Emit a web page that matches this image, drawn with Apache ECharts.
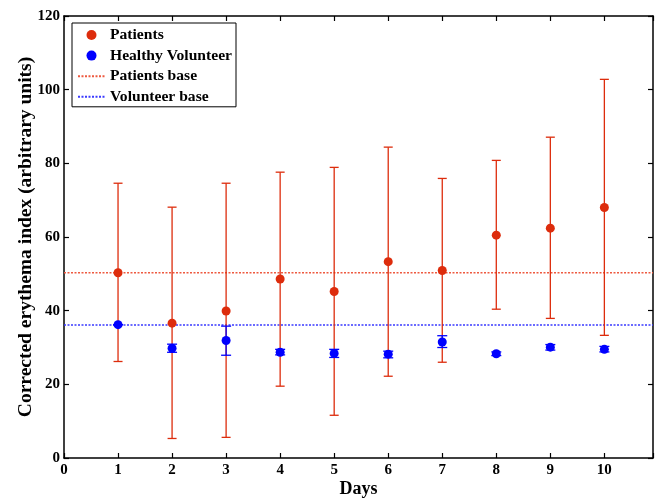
<!DOCTYPE html>
<html>
<head>
<meta charset="utf-8">
<script src="https://cdn.jsdelivr.net/npm/echarts@6/dist/echarts.min.js"></script>
<style>html,body{margin:0;padding:0;background:#fff}#c{width:664px;height:499px}</style>
</head>
<body>
<div id="c"></div>
<script>
var days = [1, 2, 3, 4, 5, 6, 7, 8, 9, 10];
var patientsMean = [50.3, 36.6, 39.9, 48.6, 45.2, 53.3, 50.9, 60.5, 62.4, 68.0];
var patientsUpper = [74.6, 68.1, 74.6, 77.6, 78.9, 84.4, 75.9, 80.8, 87.1, 102.8];
var patientsLower = [26.2, 5.3, 5.6, 19.5, 11.6, 22.2, 26.0, 40.4, 37.9, 33.3];
var volMean = [36.2, 29.8, 31.9, 28.7, 28.4, 28.2, 31.5, 28.3, 30.1, 29.5];
var volUpper = [36.2, 30.9, 35.8, 29.5, 29.5, 29.0, 33.2, 28.8, 30.8, 30.3];
var volLower = [36.2, 28.7, 27.9, 28.0, 27.3, 27.2, 30.0, 27.8, 29.3, 28.8];
var patientsBase = 50.3;
var volunteerBase = 36.1;
var xTicks = [0, 1, 2, 3, 4, 5, 6, 7, 8, 9, 10];

var RED = '#dd2c0c';
var BLUE = '#0000ff';
var FONT = 'Liberation Serif';

function errData(lo, hi) {
  return days.map(function (d, i) { return [d, lo[i], hi[i]]; });
}
function errRender(color, half) {
  return function (params, api) {
    var x = api.value(0);
    var lo = api.coord([x, api.value(1)]);
    var hi = api.coord([x, api.value(2)]);
    var st = { stroke: color, lineWidth: 1.3 };
    return {
      type: 'group',
      children: [
        { type: 'line', shape: { x1: lo[0], y1: lo[1], x2: hi[0], y2: hi[1] }, style: st },
        { type: 'line', shape: { x1: lo[0] - half, y1: lo[1], x2: lo[0] + half, y2: lo[1] }, style: st },
        { type: 'line', shape: { x1: hi[0] - half, y1: hi[1], x2: hi[0] + half, y2: hi[1] }, style: st }
      ]
    };
  };
}

var chart = echarts.init(document.getElementById('c'), null, { renderer: 'canvas' });
var axisLine = { show: true, onZero: false, lineStyle: { color: '#000', width: 1.5 } };
var tickStyle = { show: true, inside: true, length: 5, lineStyle: { color: '#000', width: 1.2 } };
chart.setOption({
  animation: false,
  backgroundColor: '#fff',
  grid: { left: 64, top: 16, right: 11, bottom: 41, containLabel: false, outerBoundsMode: 'none' },
  legend: {
    orient: 'vertical',
    left: 72, top: 23,
    padding: [4, 4, 2, 5],
    itemGap: 4.6,
    itemWidth: 27, itemHeight: 10,
    borderColor: '#000', borderWidth: 1,
    backgroundColor: '#fff',
    textStyle: { fontFamily: FONT, fontWeight: 'bold', fontSize: 15.6, color: '#000', lineHeight: 15.5 },
    data: [
      { name: 'Patients', icon: 'circle' },
      { name: 'Healthy Volunteer', icon: 'circle' },
      { name: 'Patients base', itemStyle: { opacity: 0 } },
      { name: 'Volunteer base', itemStyle: { opacity: 0 } }
    ]
  },
  xAxis: [{
    type: 'value', min: 0, max: 10.9, interval: 1,
    name: 'Days', nameLocation: 'middle', nameGap: 22, nameMoveOverlap: false,
    nameTextStyle: { fontFamily: FONT, fontWeight: 'bold', fontSize: 18, color: '#000' },
    axisLine: axisLine, axisTick: tickStyle, splitLine: { show: false },
    axisLabel: {
      fontFamily: FONT, fontWeight: 'bold', fontSize: 15, color: '#000', margin: 5,
      formatter: function (v) { return xTicks.indexOf(v) >= 0 ? String(v) : ''; }
    }
  }, {
    type: 'value', min: 0, max: 10.9, interval: 1, position: 'top',
    axisLine: axisLine, axisTick: tickStyle, axisLabel: { show: false }, splitLine: { show: false }
  }],
  yAxis: [{
    type: 'value', min: 0, max: 120, interval: 20,
    name: 'Corrected erythema index (arbitrary units)', nameLocation: 'middle', nameGap: 28.5, nameMoveOverlap: false,
    nameTextStyle: { fontFamily: FONT, fontWeight: 'bold', fontSize: 19.5, color: '#000' },
    axisLine: axisLine, axisTick: tickStyle, splitLine: { show: false },
    axisLabel: { fontFamily: FONT, fontWeight: 'bold', fontSize: 15, color: '#000', margin: 4 }
  }, {
    type: 'value', min: 0, max: 120, interval: 20, position: 'right',
    axisLine: axisLine, axisTick: tickStyle, axisLabel: { show: false }, splitLine: { show: false }
  }],
  series: [
    {
      name: 'Patients base', type: 'line', showSymbol: false, symbol: 'none',
      data: [[0, patientsBase], [10.9, patientsBase]],
      lineStyle: { color: '#ee5a40', width: 1.5, type: [2, 1.5] }, itemStyle: { color: '#ee5a40' }, z: 1
    },
    {
      name: 'Volunteer base', type: 'line', showSymbol: false, symbol: 'none',
      data: [[0, volunteerBase], [10.9, volunteerBase]],
      lineStyle: { color: '#3a3aff', width: 1.5, type: [2, 1.5] }, itemStyle: { color: '#3a3aff' }, z: 1
    },
    {
      name: 'PatErr', type: 'custom', renderItem: errRender(RED, 4.5),
      data: errData(patientsLower, patientsUpper), z: 2, silent: true
    },
    {
      name: 'VolErr', type: 'custom', renderItem: errRender(BLUE, 5),
      data: errData(volLower, volUpper), z: 3, silent: true
    },
    {
      name: 'Patients', type: 'scatter', symbol: 'circle', symbolSize: 9,
      data: days.map(function (d, i) { return [d, patientsMean[i]]; }),
      itemStyle: { color: RED, opacity: 1 }, z: 4
    },
    {
      name: 'Healthy Volunteer', type: 'scatter', symbol: 'circle', symbolSize: 9,
      data: days.map(function (d, i) { return [d, volMean[i]]; }),
      itemStyle: { color: BLUE, opacity: 1 }, z: 5
    }
  ]
});
</script>
</body>
</html>
